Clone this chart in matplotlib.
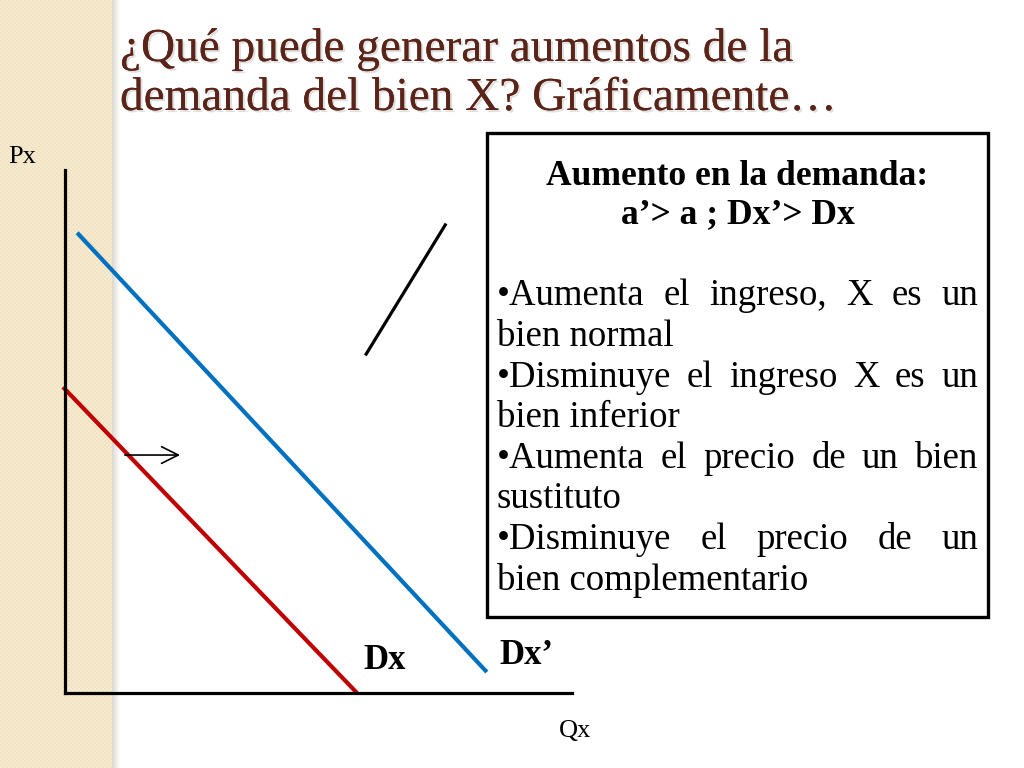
import numpy as np
import matplotlib.pyplot as plt
from matplotlib.patches import Rectangle
import matplotlib.patheffects as pe

plt.rcParams['font.family'] = ['Liberation Serif', 'DejaVu Serif']

# demand curves, (Qx, Px) in chart units 0..10
dx_q = [-0.04, 5.76]
dx_p = [5.85, 0.0]
dx2_q = [0.24, 8.32]
dx2_p = [8.80, 0.40]
# loose black segment
seg_q = [5.94, 7.50]
seg_p = [6.48, 8.95]
# shift arrow
arrow_q = [1.18, 2.27]
arrow_p = [4.55, 4.55]

title_lines = ["¿Qué puede generar aumentos de la",
               "demanda del bien X? Gráficamente…"]
box_head = ["Aumento en la demanda:", "a’> a ; Dx’> Dx"]
box_lines = [("•Aumenta el ingreso, X es un", True),
             ("bien normal", False),
             ("•Disminuye el ingreso X es un", True),
             ("bien inferior", False),
             ("•Aumenta el precio de un bien", True),
             ("sustituto", False),
             ("•Disminuye el precio de un", True),
             ("bien complementario", False)]

fig = plt.figure(figsize=(10.24, 7.68), dpi=100)
bg = fig.add_axes([0, 0, 1, 1])
bg.set_xlim(0, 1024)
bg.set_ylim(768, 0)
bg.axis('off')
renderer = fig.canvas.get_renderer()


def width_of(s, size, weight='normal'):
    t = bg.text(0, 0, s, fontsize=size, fontweight=weight)
    w = t.get_window_extent(renderer).width
    t.remove()
    return w


def fit(s, target, weight='normal'):
    return 20 * target / width_of(s, 20, weight)


def justified(line, x0, x1, y, size):
    words = line.split()
    ws = [width_of(w, size) for w in words]
    gap = (x1 - x0 - sum(ws)) / (len(words) - 1)
    x = x0
    for w, wd in zip(words, ws):
        bg.text(x, y, w, fontsize=size, va='baseline', ha='left')
        x += wd + gap


# left decorative strip
cells = np.indices((384, 56)).sum(axis=0) % 2
strip = np.where(cells[..., None] == 1,
                 np.array([0.965, 0.922, 0.812]),
                 np.array([0.945, 0.890, 0.765]))
bg.imshow(strip, extent=[0, 112, 768, 0], interpolation='nearest',
          aspect='auto', zorder=0)
shade = np.linspace(0.86, 1.0, 8)
shadow = np.stack([shade, shade * 0.99, shade * 0.97], axis=-1)[None, :, :]
bg.imshow(np.clip(shadow, 0, 1), extent=[112, 120, 768, 0], aspect='auto',
          zorder=0)
bg.set_xlim(0, 1024)
bg.set_ylim(768, 0)

# title
tsize = fit(title_lines[0], 702) * 0.96
for line, yb in zip(title_lines, [61, 110]):
    bg.text(120, yb, line, fontsize=tsize, color='#5A2418', va='baseline',
            path_effects=[pe.withSimplePatchShadow(offset=(1.5, -1.5),
                                                   shadow_rgbFace='#999999',
                                                   alpha=0.3),
                          pe.Normal()])

# text box
bg.add_patch(Rectangle((487, 133), 501, 484, facecolor='white',
                       edgecolor='black', linewidth=2.4, zorder=1))
hsize = fit(box_head[0], 390, 'bold') * 0.98
for line, yb in zip(box_head, [185, 223]):
    bg.text(737.5, yb, line, fontsize=hsize, fontweight='bold',
            ha='center', va='baseline', zorder=2)
bsize = fit("bien complementario", 321) * 0.97
for (line, just), yb in zip(box_lines, [305, 346, 387, 427, 468, 508, 549, 590]):
    if just:
        justified(line, 497, 978, yb, bsize)
    else:
        bg.text(497, yb, line, fontsize=bsize, va='baseline', ha='left')

# chart
ax = fig.add_axes([65 / 1024, 75 / 768, 507 / 1024, 523 / 768])
ax.patch.set_visible(False)
ax.set_xlim(0, 10)
ax.set_ylim(0, 10)
for side in ['top', 'right']:
    ax.spines[side].set_visible(False)
for side in ['left', 'bottom']:
    ax.spines[side].set_linewidth(2.3)
ax.set_xticks([])
ax.set_yticks([])

ax.plot(dx_q, dx_p, color='#C00000', lw=3, clip_on=False, solid_capstyle='butt')
ax.plot(dx2_q, dx2_p, color='#0070C0', lw=3, clip_on=False, solid_capstyle='butt')
ax.plot(seg_q, seg_p, color='black', lw=2.3, clip_on=False)
ax.annotate('', xy=(arrow_q[1], arrow_p[1]), xytext=(arrow_q[0], arrow_p[0]),
            arrowprops=dict(arrowstyle='->, head_length=0.5, head_width=0.25',
                            color='black', lw=1.2,
                            mutation_scale=24, shrinkA=0, shrinkB=0))

ax.text(6.31, 0.45, "Dx", fontsize=25, fontweight='bold', ha='center',
        va='baseline')
ax.text(9.11, 0.55, "Dx’", fontsize=25, fontweight='bold', ha='center',
        va='baseline')
ax.text(-0.85, 10.25, "Px", fontsize=19, ha='center', va='center')
ax.text(10.06, -0.73, "Qx", fontsize=19, ha='center', va='center')

fig.savefig('out.png', dpi=100)
